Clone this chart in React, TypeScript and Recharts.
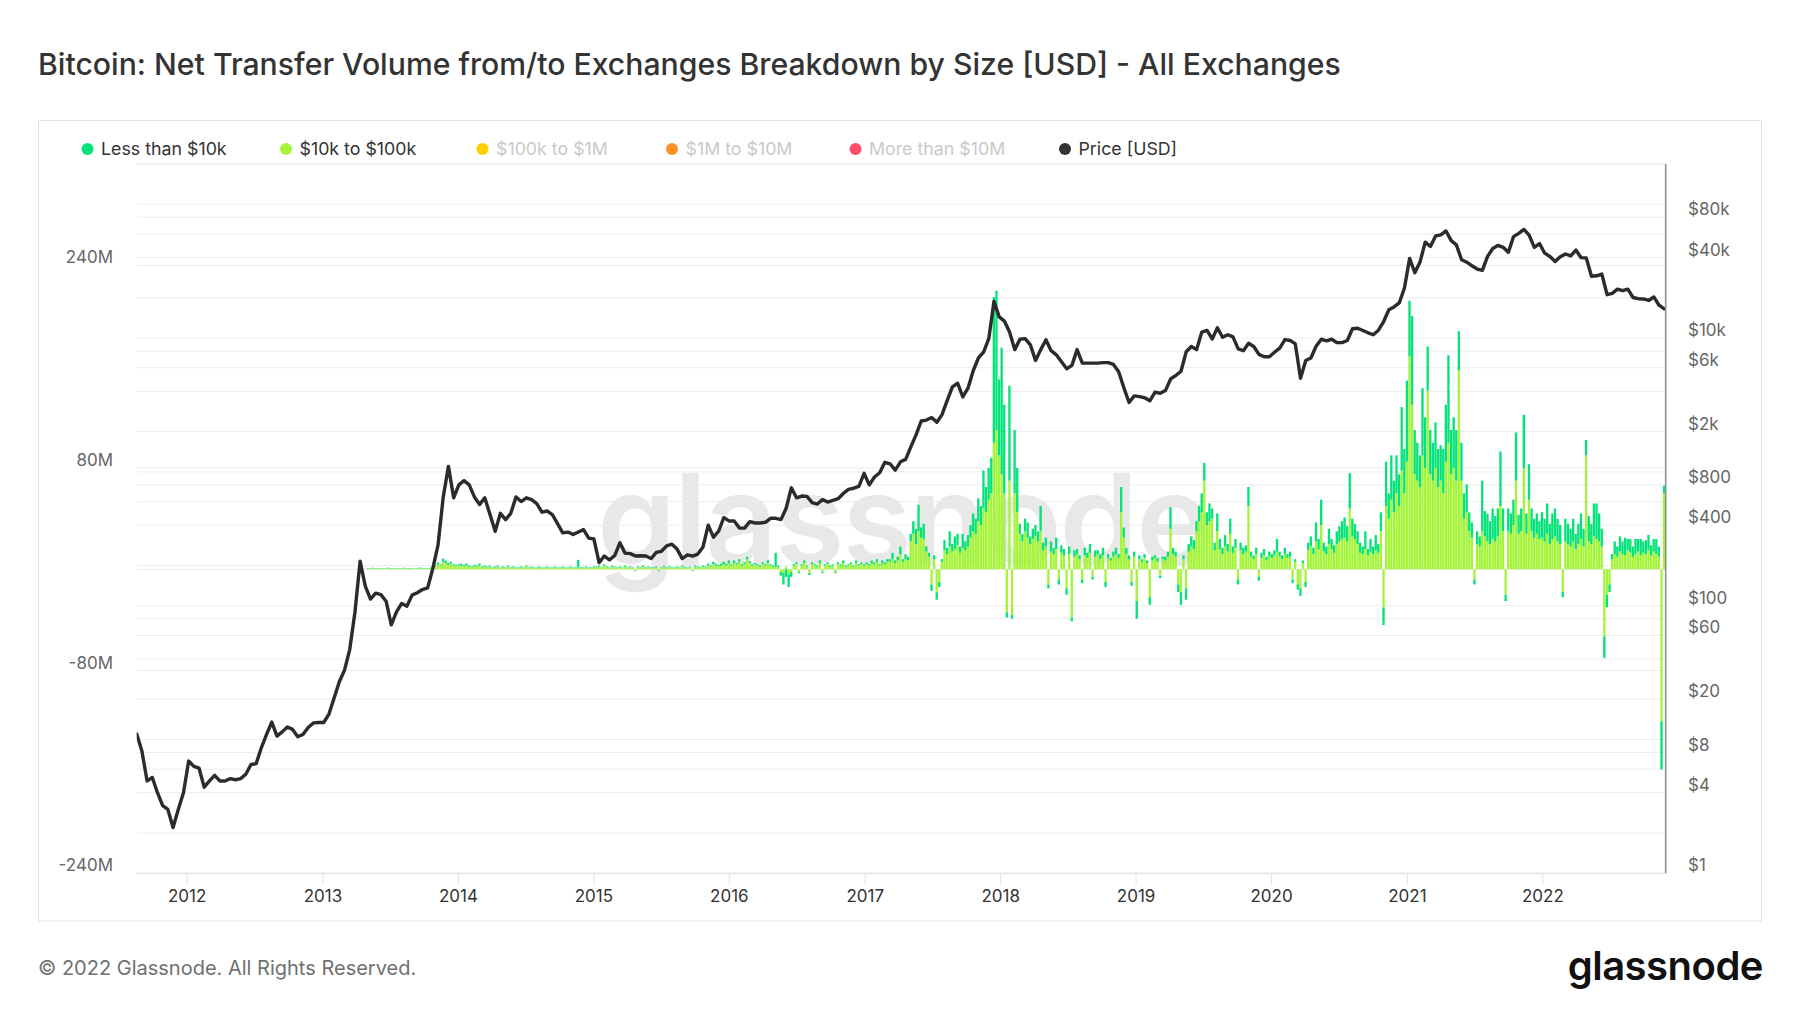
import React from 'react';
import { ComposedChart, Bar, Line, XAxis, YAxis, CartesianGrid } from 'recharts';

const FONT = 'Inter, "Noto Sans", "DejaVu Sans", sans-serif';
const DAY_MS = 86400000;

// ---------- Price [USD], one reading every 14 days ----------
const priceStart = '2011-08-18';
const priceStepDays = 14;
const priceUsd = [
  // 2011
  11.0, 8.2, 4.9, 5.2, 4.0, 3.2, 3.0, 2.2, 3.0, 4.0,
  // 2012
  6.9, 6.3, 6.1, 4.4, 4.9, 5.4, 4.9, 4.9, 5.1, 5.0, 5.1, 5.5, 6.5, 6.6, 8.7, 10.9, 13.5, 10.6, 11.4, 12.4, 11.9, 10.5, 10.9, 12.3, 13.3, 13.4,
  // 2013
  13.4, 15.5, 20.4, 27, 33, 47, 89, 215, 140, 112, 124, 121, 108, 72, 90, 104, 99, 120, 125, 132, 136, 190, 285, 650, 1100, 640,
  // 2014
  800, 860, 800, 650, 570, 640, 480, 360, 490, 440, 490, 650, 600, 640, 620, 580, 500, 510, 480, 410, 350, 355, 340, 355, 370, 320,
  // 2015
  315, 210, 235, 220, 237, 295, 247, 245, 235, 236, 235, 225, 250, 255, 280, 288, 265, 225, 240, 235, 243, 275, 400, 325, 360, 455,
  // 2016
  430, 430, 380, 380, 425, 415, 415, 420, 450, 450, 440, 535, 760, 640, 660, 655, 590, 575, 620, 595, 612, 630, 690, 740, 755, 780,
  // 2017
  975, 800, 915, 985, 1180, 1150, 1030, 1190, 1240, 1540, 1890, 2400, 2440, 2550, 2350, 2680, 3420, 4320, 4600, 3630, 4220, 5700, 7100, 7850, 9900, 18800,
  // 2018
  14400, 13400, 11100, 8200, 9800, 9900, 8900, 6800, 8200, 9700, 8050, 7500, 6650, 5900, 6250, 8200, 6500, 6500, 6500, 6500, 6550, 6550, 6350, 5600, 4250, 3300,
  // 2019
  3700, 3650, 3580, 3400, 3950, 3870, 4050, 4950, 5250, 5650, 7900, 8650, 8200, 11100, 11400, 9850, 11950, 10150, 10600, 10200, 8300, 8050, 9150, 8650, 7550, 7250,
  // 2020
  7250, 7850, 8400, 9750, 9600, 9050, 5000, 6800, 7100, 8700, 9800, 9550, 9800, 9250, 9250, 9600, 11750, 11850, 11400, 10950, 10600, 11450, 13300, 16300, 17100, 18300,
  // 2021
  23700, 39400, 30800, 37000, 52100, 48400, 58000, 59000, 63200, 53500, 49700, 38500, 36900, 34700, 32800, 32100, 40800, 46700, 49300, 47700, 43800, 57300, 60600, 64900, 58900, 47600,
  // 2022
  50800, 43100, 40700, 37300, 40500, 42500, 41100, 45500, 39900, 39700, 29000, 29200, 30100, 21100, 21600, 23200, 22600, 23200, 20100, 19700, 19600, 19100, 20300, 17600, 16500,
];

// ---------- Net transfer volume [M USD], weekly, per calendar year ----------
const barYearStarts = ['2013-05-02', '2014-01-09', '2015-01-08', '2016-01-07', '2017-01-05', '2018-01-04', '2019-01-03', '2020-01-02', '2020-12-31', '2021-12-30'];

// $10k to $100k
const mid2013 = [0.6, 0.5, 0.8, 0.5, 0.7, 0.4, 0.6, 0.5, 0.9, 0.6, 0.5, 0.7, 0.4, 0.6, 0.8, 0.5, 0.6, 0.7, 0.5, 0.6, 0.9, 0.7, 0.5, 0.6, 0.8, 1.0, 2.5, 4, 3, 6, 5, 3.5, 4.5, 3, 2.5, 3];
const mid2014 = [3, 2.5, 3, 2, 1.5, 2.5, 2, 3, 1.5, 2, 1.5, 2, 1, 1.5, 2, 1, 1.5, 1, 2, 1, 1.5, 1, 1, 1.5, 1, 2, 1, 1.5, 1, 1, 1.5, 1, 1, 1.5, 1, 1, 1.5, 1, 1, 1.5, 1, 1, 1.5, 1, 1, 1.5, 1, 1, 1.5, 1, 1, 1.5];
const mid2015 = [1.5, 2, 1, 3, 1.5, 1, 2, 1.5, 1, 1.5, 1, 2, 1, 1.5, 1, -1, 1.5, 1, 2, 1, 1.5, 1, 1, 1.5, -1, 1, 2, 1, 1.5, 1, 1, 1.5, 1, 2, 1.5, 1, 1.5, -1, 2, 1.5, 1, 2, 1.5, 3, 2, 4, 3, 2.5, 3, 4, 3, 5];
const mid2016 = [3, 5, 4, 6, 3, 4, 8, 5, 3, 4, 3, 2, 4, 3, 5, 3, 2, 2, 2, -2, -3, 2, -4, -2, 3, 4, -2, 3, 5, 2, -3, 4, 3, 2, 5, -2, 3, 4, 2, 3, -2, 4, 3, 5, 2, 3, 4, 2, 5, 3, 4, 3];
const mid2017 = [4, 3, 5, 4, 6, 3, 5, 4, 6, 6, 8, 5, 7, 12, 6, 8, 7, 22, 28, 20, 30, 25, 24, 14, 10, -12, 8, -18, -10, 6, 15, 12, 18, 14, 16, 19, 13, 17, 15, 18, 25, 30, 28, 38, 35, 48, 45, 55, 60, 100, 110, 90];
const mid2018 = [75, 60, -34, 70, -36, 60, 45, 28, 22, 30, 25, 20, 24, 26, 22, 30, 15, 18, -12, 14, 12, 16, -8, 13, 11, -15, 12, -38, 10, 12, 8, -8, 11, 9, 13, -6, 10, 12, 8, 11, -10, 9, 7, 10, 12, 9, 45, 25, 12, 8, -10, 10];
const mid2019 = [-25, 8, 6, 9, 5, -22, 7, 9, 6, -5, 8, 7, 10, 32, 12, 10, -12, -18, 8, -15, 14, 18, 16, 30, 38, 45, 70, 35, 38, 40, 15, 30, 16, 12, 18, 14, 28, 13, 17, -8, 15, 12, 14, 50, 10, 8, 12, -6, 9, 11, 7, 10];
const mid2020 = [9, 11, 14, 10, 8, 12, 9, 10, -8, 6, -12, -15, 5, -10, 15, 18, 12, 22, 16, 35, 14, 12, 20, 16, 13, 20, 22, 24, 25, 22, 48, 26, 24, 20, 13, 12, 16, 11, 14, 12, 15, 13, 30, -30, 50, 40, 55, 45, 60, 50, 78, 60];
const mid2021 = [85, 168, 130, 75, 70, 65, 90, 80, 141, 75, 70, 80, 65, 70, 60, 85, 100, 75, 80, 70, 157, 70, 40, 45, 30, 25, -8, 20, 18, 30, 26, 22, 20, 24, 22, 26, 50, 30, -20, 30, 28, 35, 70, 28, 30, 80, 28, 55, 30, 25, 28, 24];
const mid2022 = [25, 22, 28, 20, 24, 26, 22, 20, -18, 22, 20, 18, 22, 16, 20, 24, 18, 90, 22, 20, 26, 24, 22, 18, -53, -20, -12, 8, 12, 10, 14, 12, 11, 15, 13, 10, 12, 14, 11, 13, 12, 15, 11, 14, 12, 10, -120, 60];

// Less than $10k
const lt2013 = [0.4, 0.3, 0.5, 0.3, 0.4, 0.3, 0.4, 0.3, 0.5, 0.4, 0.3, 0.4, 0.3, 0.4, 0.5, 0.3, 0.4, 0.4, 0.3, 0.4, 0.5, 0.4, 0.3, 0.4, 0.5, 0.6, 1, 1.5, 1, 2.5, 2, 1.5, 1.5, 1, 1, 1];
const lt2014 = [1.5, 1, 1.5, 1, 0.8, 1, 1, 1.5, 0.8, 1, 0.8, 1, 0.5, 0.8, 1, 0.5, 0.8, 0.5, 1, 0.5, 0.8, 0.5, 0.5, 0.8, 0.5, 1, 0.5, 0.8, 0.5, 0.5, 0.8, 0.5, 0.5, 0.8, 0.5, 0.5, 0.8, 0.5, 0.5, 0.8, 0.5, 0.5, 0.8, 0.5, 0.5, 6, 0.5, 0.5, 0.8, 0.5, 0.5, 0.8];
const lt2015 = [0.8, 1, 0.5, 1, 0.8, 0.5, 1, 0.8, 0.5, 0.8, 0.5, 1, 0.5, 0.8, 0.5, -0.5, 0.8, 0.5, 1, 0.5, 0.8, 0.5, 0.5, 0.8, -0.5, 0.5, 1, 0.5, 0.8, 0.5, 0.5, 0.8, 0.5, 1, 0.8, 0.5, 0.8, -0.5, 1, 0.8, 0.5, 1, 0.8, 1.5, 1, 2, 1.5, 1, 1.5, 2, 1.5, 2];
const lt2016 = [1, 2, 1, 2, 1, 1.5, 2, 1.5, 1, 1, 1, 1, 1.5, 1, 2, 1, 1, 11, 1, -3, -9, -6, -10, -4, 1, 1.5, -1, 1, 2, 1, -1.5, 1.5, 1, 1, 2, -1, 1, 1.5, 1, 1, -1, 1.5, 1, 2, 1, 1, 1.5, 1, 2, 1, 1.5, 1];
const lt2017 = [1.5, 1, 2, 1.5, 2, 1, 2, 1.5, 2, 2, 5, 2, 3, 6, 2, 4, 3, 6, 10, 12, 21, 8, 12, 4, 3, -5, 3, -6, -4, 2, 8, 5, 12, 6, 10, 9, 5, 11, 7, 9, 10, 14, 12, 18, 15, 30, 20, 25, 28, 115, 110, 60];
const lt2018 = [100, 70, -4, 75, -3, 50, 35, 8, 6, 10, 12, 6, 8, 9, 8, 20, 6, 7, -3, 8, 5, 9, -4, 6, 5, -5, 6, -3, 5, 4, 3, -3, 6, 4, 7, -2, 5, 3, 4, 6, -4, 3, 2, 4, 5, 3, 20, 8, 5, 3, -3, 4];
const lt2019 = [-14, 3, 2, 3, 2, -6, 3, 2, 3, -2, 2, 3, 4, 17, 5, 4, -6, -10, 3, -9, 6, 8, 7, 8, 12, 15, 14, 10, 14, 8, 6, 14, 8, 5, 9, 6, 12, 5, 7, -4, 6, 5, 5, 15, 4, 3, 5, -3, 4, 5, 3, 4];
const lt2020 = [3, 4, 10, 4, 3, 5, 3, 4, -3, 2, -4, -6, 2, -4, 6, 8, 5, 15, 8, 20, 7, 6, 12, 8, 6, 10, 12, 14, 16, 12, 28, 14, 12, 10, 8, 6, 14, 5, 10, 6, 12, 7, 15, -14, 35, 20, 35, 25, 30, 25, 50, 35];
const lt2021 = [64, 44, 70, 35, 30, 25, 53, 40, 35, 35, 30, 36, 30, 28, 35, 45, 69, 35, 40, 40, 31, 30, 20, 22, 15, 12, -4, 10, 8, 40, 20, 22, 18, 24, 20, 22, 43, 18, -5, 18, 16, 20, 38, 15, 18, 42, 16, 28, 18, 15, 16, 14];
const lt2022 = [20, 18, 24, 16, 20, 22, 18, 15, -4, 18, 16, 14, 18, 12, 16, 20, 14, 12, 20, 16, 26, 28, 22, 14, -17, -10, -6, 4, 10, 8, 12, 10, 14, 9, 11, 8, 12, 10, 13, 9, 11, 12, 8, 10, 12, 8, -38, 6];

const midByYear = [mid2013, mid2014, mid2015, mid2016, mid2017, mid2018, mid2019, mid2020, mid2021, mid2022];
const smallByYear = [lt2013, lt2014, lt2015, lt2016, lt2017, lt2018, lt2019, lt2020, lt2021, lt2022];

// ---------- axes ----------
const xDomain = ['2011-08-18', '2022-11-28'];
const xTickYears = [2012, 2013, 2014, 2015, 2016, 2017, 2018, 2019, 2020, 2021, 2022];
const leftTicks = [-240, -80, 0, 80, 240];
const leftLabelled = [-240, -80, 80, 240];
const rightTicks = [1, 2, 4, 6, 8, 10, 20, 40, 60, 80, 100, 200, 400, 600, 800, 1000, 2000, 4000, 6000, 8000, 10000, 20000, 40000, 60000, 80000, 100000, 200000];
const rightLabelled = [1, 4, 8, 20, 60, 100, 400, 800, 2000, 6000, 10000, 40000, 80000];

const GREEN = '#05e27a';
const LIME = '#a4f43a';
const legendLabels = ['Less than $10k', '$10k to $100k', '$100k to $1M', '$1M to $10M', 'More than $10M', 'Price [USD]'];
const legendColors = [GREEN, LIME, '#ffcf00', '#ff9124', '#ff4d6a', '#333333'];
const legendActive = [true, true, false, false, false, true];
const legendTextX = [101, 299.5, 496, 685.5, 869, 1078.5];

type Row = { t: number; price?: number; mid?: number; small?: number };

function buildRows(): Row[] {
  const map = new Map<number, Row>();
  const get = (t: number) => {
    let r = map.get(t);
    if (!r) {
      r = { t };
      map.set(t, r);
    }
    return r;
  };
  const p0 = Date.parse(priceStart);
  priceUsd.forEach((v, i) => {
    get(p0 + i * priceStepDays * DAY_MS).price = v;
  });
  barYearStarts.forEach((s, y) => {
    const t0 = Date.parse(s);
    midByYear[y].forEach((v, i) => {
      const r = get(t0 + i * 7 * DAY_MS);
      r.mid = v;
      r.small = smallByYear[y][i];
    });
  });
  return Array.from(map.values()).sort((a, b) => a.t - b.t);
}

const rows = buildRows();
const xTicks = xTickYears.map((y) => Date.UTC(y, 0, 1));
const xMin = Date.parse(xDomain[0]);
const xMax = Date.parse(xDomain[1]);

const PLOT_BOTTOM = 873.3;

const fmtUsd = (v: number) => (v >= 1000 ? `$${v / 1000}k` : `$${v}`);

const LeftTick = (props: any) => {
  const { y, payload } = props;
  if (!leftLabelled.includes(payload.value)) return <g />;
  return (
    <text x={113} y={y - 8} dy="0.36em" textAnchor="end" fontSize={17} fontFamily={FONT} fill="#666">
      {`${payload.value}M`}
    </text>
  );
};

const RightTick = (props: any) => {
  const { y, payload } = props;
  if (!rightLabelled.includes(payload.value)) return <g />;
  return (
    <text x={1688} y={y - 8} dy="0.36em" textAnchor="start" fontSize={17} fontFamily={FONT} fill="#666">
      {fmtUsd(payload.value)}
    </text>
  );
};

const XTick = (props: any) => {
  const { x, payload } = props;
  return (
    <g>
      <line x1={x} x2={x} y1={PLOT_BOTTOM} y2={885} stroke="#e3e3e3" strokeWidth={1} />
      <text x={x} y={896} dy="0.36em" textAnchor="middle" fontSize={17} fontFamily={FONT} fill="#333">
        {new Date(payload.value).getUTCFullYear()}
      </text>
    </g>
  );
};

export default function App() {
  return (
    <div style={{ position: 'absolute', left: 0, top: 0, width: 1800, height: 1013, background: '#fff', overflow: 'hidden' }}>
      <svg width={1800} height={1013} style={{ position: 'absolute', left: 0, top: 0 }}>
        <text x={38} y={74.5} fontSize={30.2} fontWeight={500} fontFamily={FONT} fill="#333">
          Bitcoin: Net Transfer Volume from/to Exchanges Breakdown by Size [USD] - All Exchanges
        </text>
        <rect x={38.5} y={120.5} width={1723} height={800.5} fill="none" stroke="#e4e4e4" strokeWidth={1} />
        {legendLabels.map((label, i) => (
          <g key={label}>
            <circle cx={legendTextX[i] - 13.5} cy={149} r={6} fill={legendColors[i]} />
            <text x={legendTextX[i]} y={149} dy="0.36em" fontSize={17.8} fontFamily={FONT} fill={legendActive[i] ? '#333' : '#c9c9c9'}>
              {label}
            </text>
          </g>
        ))}
        <text x={903} y={565} textAnchor="middle" fontSize={126} fontWeight={600} fontFamily={FONT} fill="#e8e8e8" letterSpacing={-2}>
          glassnode
        </text>
        <text x={38} y={968} dy="0.36em" fontSize={20} fontFamily={FONT} fill="#707070">
          © 2022 Glassnode. All Rights Reserved.
        </text>
        <text x={1763} y={980} textAnchor="end" fontSize={40} fontWeight={600} fontFamily={FONT} fill="#111" letterSpacing={-0.5}>
          glassnode
        </text>
      </svg>
      <div style={{ position: 'absolute', left: 0, top: 0 }}>
        <ComposedChart
          width={1800}
          height={1013}
          data={rows}
          stackOffset="sign"
          margin={{ top: 164, right: 34.3, bottom: 99.7, left: 36.7 }}
        >
          <CartesianGrid xAxisId="x" yAxisId="right" vertical={false} stroke="#ececec" />
          <CartesianGrid xAxisId="x" yAxisId="left" vertical={false} stroke="#ececec" />
          <XAxis
            xAxisId="x"
            dataKey="t"
            type="number"
            domain={[xMin, xMax]}
            ticks={xTicks}
            interval={0}
            allowDataOverflow
            height={40}
            tickLine={false}
            axisLine={{ stroke: '#e3e3e3' }}
            tick={XTick}
          />
          <YAxis
            yAxisId="left"
            orientation="left"
            type="number"
            domain={[-240, 320]}
            ticks={leftTicks}
            interval={0}
            allowDataOverflow
            width={100}
            tickLine={false}
            axisLine={false}
            tick={LeftTick}
          />
          <YAxis
            yAxisId="right"
            orientation="right"
            type="number"
            scale="log"
            domain={[1, 200000]}
            ticks={rightTicks}
            interval={0}
            allowDataOverflow
            width={100}
            tickLine={false}
            axisLine={{ stroke: '#8f8f8f', strokeWidth: 1.6 }}
            tick={RightTick}
          />
          <Bar xAxisId="x" yAxisId="left" dataKey="mid" stackId="vol" fill={LIME} barSize={2.6} isAnimationActive={false} />
          <Bar xAxisId="x" yAxisId="left" dataKey="small" stackId="vol" fill={GREEN} barSize={2.6} isAnimationActive={false} />
          <Line
            xAxisId="x"
            yAxisId="right"
            dataKey="price"
            type="linear"
            stroke="#2b2b2b"
            strokeWidth={3.4}
            strokeLinejoin="round"
            strokeLinecap="round"
            dot={false}
            activeDot={false}
            connectNulls
            isAnimationActive={false}
          />
        </ComposedChart>
      </div>
    </div>
  );
}
